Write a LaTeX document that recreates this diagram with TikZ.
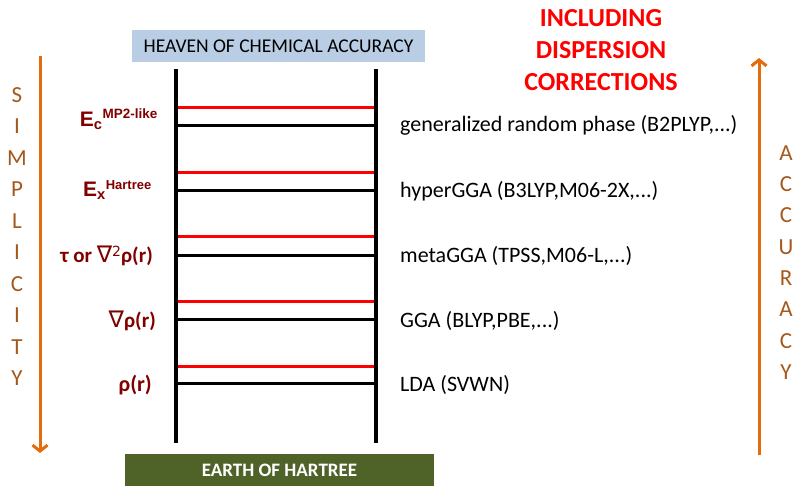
\documentclass[tikz,border=0pt]{standalone}
\usepackage{fontspec}
\setmainfont{Carlito}
\newfontfamily\dejavu{DejaVu Sans}
\newfontfamily\arialf{Liberation Sans}
\usetikzlibrary{arrows.meta}
\definecolor{heaven}{HTML}{B9CDE5}
\definecolor{earth}{HTML}{4F6228}
\definecolor{darkred}{HTML}{800000}
\definecolor{arrorange}{HTML}{E46C0A}
\definecolor{lettercol}{HTML}{A5581C}
\definecolor{rungred}{HTML}{FF0000}
\newcommand{\nablasym}{{\dejavu\mdseries\fontsize{23}{24}\selectfont ∇}}
\tikzset{
  rail/.style={line width=4pt, black},
  redrung/.style={line width=3pt, rungred},
  blackrung/.style={line width=3pt, black},
  method/.style={anchor=west, inner sep=0pt, font=\fontsize{22}{24}\selectfont},
  ingr/.style={anchor=east, inner sep=0pt, text=darkred, font=\bfseries\fontsize{21}{24}\selectfont},
  vletter/.style={inner sep=0pt, text=lettercol, font=\fontsize{23}{24}\selectfont},
  bigarrow/.style={line width=3pt, arrorange, -{Straight Barb[length=6pt,width=15pt]}},
}
\begin{document}
\begin{tikzpicture}[x=1pt,y=-1pt]
\useasboundingbox (0,0) rectangle (802,491);
% boxes
\node[fill=heaven, minimum width=293pt, minimum height=32pt, inner sep=0pt, font=\fontsize{19.5}{22}\selectfont] (heaven) at (278.5,46) {HEAVEN OF CHEMICAL ACCURACY};
\node[fill=earth, text=white, minimum width=309pt, minimum height=32pt, inner sep=0pt, font=\bfseries\fontsize{19}{22}\selectfont] (earth) at (279.5,470) {EARTH OF HARTREE};
% rails
\coordinate (lt) at (176,69);
\coordinate (lb) at (176,443);
\coordinate (rt) at (376,69);
\coordinate (rb) at (376,443);
\draw[rail] (lt) -- (lb);
\draw[rail] (rt) -- (rb);
% rungs
\foreach \yr/\yb in {107/125, 172/190, 236/255, 301/319, 366/383}{
  \draw[redrung] (178,\yr) -- (374,\yr);
  \draw[blackrung] (178,\yb) -- (374,\yb);
}
% method labels
\node[method] (m5) at (400,125) {generalized random phase (B2PLYP,...)};
\node[method] (m4) at (400,191) {hyperGGA (B3LYP,M06-2X,...)};
\node[method] (m3) at (400,256) {metaGGA (TPSS,M06-L,...)};
\node[method] (m2) at (400,321) {GGA (BLYP,PBE,...)};
\node[method] (m1) at (400,385) {LDA (SVWN)};
% ingredients
\node[ingr, font=\arialf\bfseries\fontsize{21}{24}\selectfont] (i5) at (158,119) {E\textsubscript{c}\textsuperscript{\fontsize{13.5}{14}\selectfont MP2-like}};
\node[ingr, font=\arialf\bfseries\fontsize{21}{24}\selectfont] (i4) at (152,190) {E\textsubscript{x}\textsuperscript{\fontsize{13}{14}\selectfont Hartree}};
\node[ingr] (i3) at (153,256) {τ or \nablasym\raisebox{6pt}{\dejavu\mdseries\fontsize{14}{14}\selectfont 2}ρ(r)};
\node[ingr] (i2) at (156,321) {\nablasym ρ(r)};
\node[ingr, font=\bfseries\fontsize{22}{24}\selectfont] (i1) at (152,385) {ρ(r)};
% dispersion
\node[align=center, text=rungred, inner sep=0pt, font=\bfseries\fontsize{26}{32}\selectfont] (disp) at (601,50.5) {INCLUDING\\DISPERSION\\CORRECTIONS};
% arrows
\coordinate (sa) at (40,56);
\coordinate (sb) at (40,453);
\draw[bigarrow] (sa) -- (sb);
\coordinate (aa) at (759,455);
\coordinate (ab) at (759,58);
\draw[bigarrow] (aa) -- (ab);
% SIMPLICITY
\foreach \l [count=\i from 0] in {S,I,M,P,L,I,C,I,T,Y}{
  \node[vletter] (s\i) at (17,95+31.5*\i) {\l};
}
% ACCURACY
\foreach \l [count=\i from 0] in {A,C,C,U,R,A,C,Y}{
  \node[vletter] (a\i) at (786,153+31.3*\i) {\l};
}
\end{tikzpicture}
\end{document}
